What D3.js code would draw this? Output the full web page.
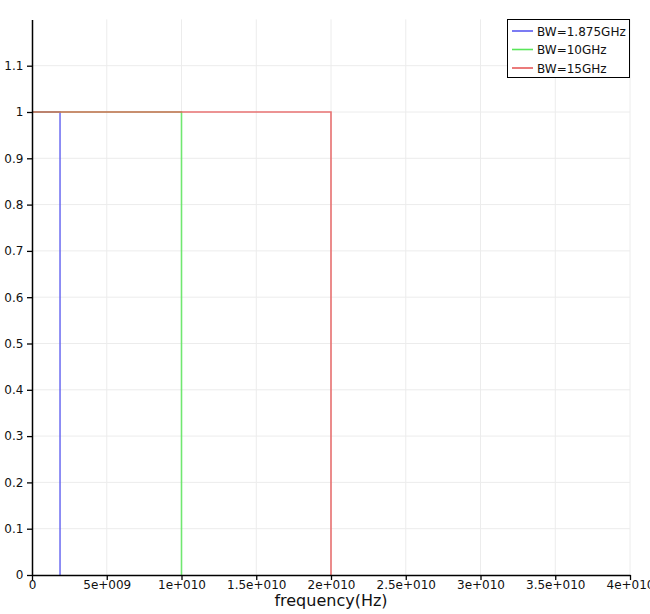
<!DOCTYPE html>
<html><head><meta charset="utf-8">
<script src="https://cdn.jsdelivr.net/npm/d3@7"></script>
<style>body{margin:0;background:#fff}svg{display:block}</style>
</head><body>
<script>
const seriesNames = ["BW=1.875GHz", "BW=10GHz", "BW=15GHz"];
const seriesColors = ["#5a5af0", "#5ae65a", "#e65a5a"];
const cutoffs = [1.875e9, 1.0e10, 2.0e10];
const levels = [1, 1, 1];
const xTicks = [0, 5e9, 1e10, 1.5e10, 2e10, 2.5e10, 3e10, 3.5e10, 4e10];
const xTickLabels = ["0", "5e+009", "1e+010", "1.5e+010", "2e+010", "2.5e+010", "3e+010", "3.5e+010", "4e+010"];
const yTicks = [0, 0.1, 0.2, 0.3, 0.4, 0.5, 0.6, 0.7, 0.8, 0.9, 1, 1.1];
const yTickLabels = ["0", "0.1", "0.2", "0.3", "0.4", "0.5", "0.6", "0.7", "0.8", "0.9", "1", "1.1"];

const W = 650, H = 614;
const svg = d3.select("body").append("svg").attr("width", W).attr("height", H);
const x = d3.scaleLinear().domain([0, 4e10]).range([32, 630]);
const y = d3.scaleLinear().domain([0, 1.2]).range([575, 19.4]);
const font = "DejaVu Sans, Verdana, sans-serif";

// grid
svg.append("g").selectAll("line").data(xTicks.slice(1)).join("line")
  .attr("x1", d => x(d)).attr("x2", d => x(d)).attr("y1", y(0)).attr("y2", y(1.2))
  .attr("stroke", "#ececec").attr("stroke-width", 1);
svg.append("g").selectAll("line").data(yTicks.slice(1)).join("line")
  .attr("x1", x(0)).attr("x2", x(4e10)).attr("y1", d => y(d)).attr("y2", d => y(d))
  .attr("stroke", "#ececec").attr("stroke-width", 1);

// series
const line = d3.line().x(d => x(d[0])).y(d => y(d[1]));
seriesNames.forEach((n, i) => {
  const pts = [[0, levels[i]], [cutoffs[i], levels[i]], [cutoffs[i], 0]];
  svg.append("path").attr("d", line(pts)).attr("fill", "none")
    .attr("stroke", seriesColors[i]).attr("stroke-width", 1.6).attr("stroke-opacity", 0.85);
});

// axes
const xAxis = d3.axisBottom(x).tickValues(xTicks).tickFormat((d, i) => xTickLabels[i]).tickSize(5).tickSizeOuter(0);
const gx = svg.append("g").attr("transform", `translate(0,${y(0)})`).call(xAxis);
const yAxis = d3.axisLeft(y).tickValues(yTicks).tickFormat((d, i) => yTickLabels[i]).tickSize(5).tickSizeOuter(0);
const gy = svg.append("g").attr("transform", `translate(${x(0)},0)`).call(yAxis);
[gx, gy].forEach(g => {
  g.select(".domain").attr("stroke", "#000").attr("stroke-width", 1.5);
  g.selectAll(".tick line").attr("stroke", "#000").attr("stroke-width", 1.3);
  g.selectAll(".tick text").attr("fill", "#111").style("font-family", font).style("font-size", "12px");
});
gx.selectAll(".tick text").attr("y", 5).attr("dy", "0.75em");
gy.selectAll(".tick text").attr("dx", "-0.05em");

svg.append("text").attr("x", 331).attr("y", 606).attr("text-anchor", "middle")
  .style("font-family", font).style("font-size", "16px").attr("fill", "#111").text("frequency(Hz)");

// legend
const lg = svg.append("g");
lg.append("rect").attr("x", 507.5).attr("y", 19.5).attr("width", 122).attr("height", 58)
  .attr("fill", "#fff").attr("stroke", "#000").attr("stroke-width", 1);
seriesNames.forEach((n, i) => {
  const yy = 31 + i * 18.5;
  lg.append("line").attr("x1", 512).attr("x2", 533).attr("y1", yy).attr("y2", yy)
    .attr("stroke", seriesColors[i]).attr("stroke-width", 1.6);
  lg.append("text").attr("x", 537).attr("y", yy + 4.5).style("font-family", font)
    .style("font-size", "12px").attr("fill", "#111").text(n);
});
</script>
</body></html>
